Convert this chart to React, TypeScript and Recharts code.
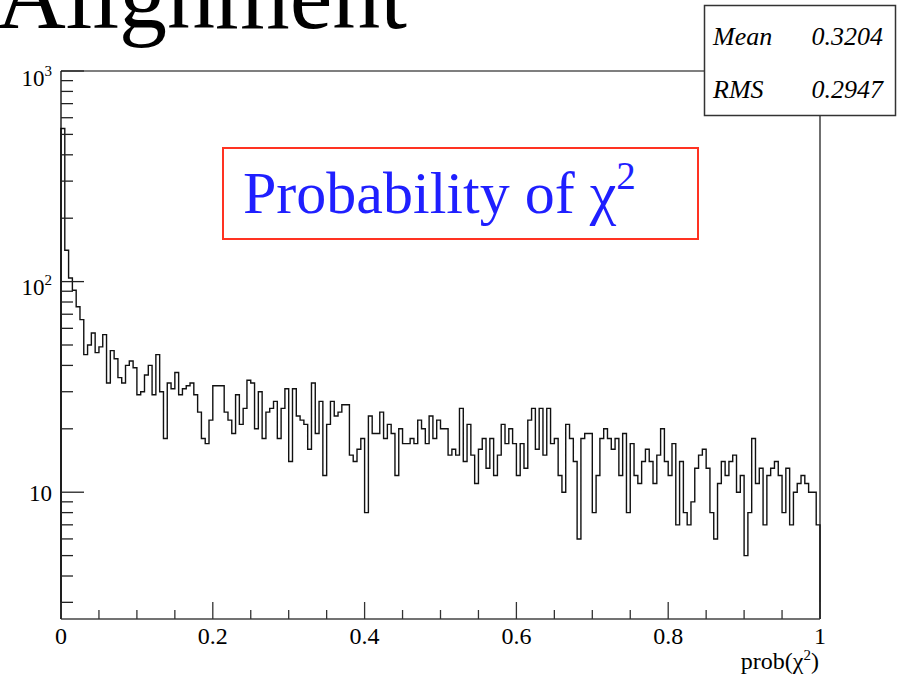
import React from "react";
import { LineChart, Line, XAxis, YAxis, ReferenceLine } from "recharts";

// entries per bin of prob(chi2), 200 bins over [0, 1]
const counts = [
    533, 141, 104, 91, 76, 66, 45, 50, 57, 46,
    49, 56, 33, 47, 43, 35, 33, 40, 42, 39,
    29, 30, 36, 40, 29, 45, 30, 18, 33, 31,
    37, 29, 31, 32, 33, 29, 24, 18, 17, 22,
    32, 32, 32, 24, 22, 19, 29, 21, 25, 34,
    33, 20, 30, 18, 24, 25, 27, 18, 25, 31,
    14, 31, 23, 22, 21, 16, 33, 19, 27, 12,
    21, 27, 23, 24, 26, 26, 15, 14, 16, 18,
    8, 23, 19, 19, 24, 18, 21, 19, 12, 20,
    17, 17, 18, 17, 22, 20, 17, 23, 18, 22,
    20, 20, 15, 16, 15, 25, 14, 21, 15, 11,
    16, 18, 13, 18, 12, 15, 21, 17, 20, 17,
    12, 17, 13, 22, 25, 16, 25, 15, 25, 17,
    18, 12, 10, 21, 18, 14, 6, 18, 19, 19,
    8, 12, 18, 20, 18, 16, 18, 12, 19, 8,
    17, 12, 11, 14, 16, 14, 11, 15, 20, 14,
    12, 17, 7, 14, 8, 7, 9, 13, 15, 16,
    13, 8, 6, 11, 14, 12, 14, 15, 10, 12,
    5, 8, 18, 11, 13, 7, 12, 13, 14, 12,
    8, 13, 7, 10, 11, 12, 11, 10, 10, 7,
];

const xTicks = [
    0, 0.05, 0.1, 0.15, 0.2, 0.25, 0.3, 0.35, 0.4, 0.45, 0.5,
    0.55, 0.6, 0.65, 0.7, 0.75, 0.8, 0.85, 0.9, 0.95, 1,
];
const xLabels: Record<string, string> = {
    "0": "0", "0.2": "0.2", "0.4": "0.4", "0.6": "0.6", "0.8": "0.8", "1": "1",
};

const yTicks = [
    3, 4, 5, 6, 7, 8, 9, 10, 20, 30, 40, 50, 60, 70, 80, 90,
    100, 200, 300, 400, 500, 600, 700, 800, 900, 1000,
];
const yLabels: Record<string, string> = { "10": "", "100": "2", "1000": "3" };

const stats = [
    { name: "Mean", value: "0.3204" },
    { name: "RMS", value: "0.2947" },
];

const Y_MIN = 2.5;
const Y_MAX = 1000;

const histData = [
    { x: 0, n: Y_MIN },
    ...counts.map((n, i) => ({ x: i / counts.length, n })),
    { x: 1, n: counts[counts.length - 1] },
    { x: 1, n: Y_MIN },
];

const serif = '"Liberation Serif", "DejaVu Serif", serif';

const XTick = (props: any) => {
    const { x, y, payload } = props;
    const label = xLabels[String(payload.value)];
    const major = label !== undefined;
    return (
        <g>
            <line x1={x} x2={x} y1={y} y2={y - (major ? 17 : 9)} stroke="#333" strokeWidth={1.3} />
            {major && (
                <text x={x} y={y + 25} textAnchor="middle" fontSize={24} fontFamily={serif} fill="#000">
                    {label}
                </text>
            )}
        </g>
    );
};

const YTick = (props: any) => {
    const { x, y, payload } = props;
    const exp = yLabels[String(payload.value)];
    const major = exp !== undefined;
    const dy = exp === "3" ? 15 : exp === "2" ? 13 : 9;
    return (
        <g>
            <line x1={x} x2={x + (major ? 23 : 12)} y1={y} y2={y} stroke="#222" strokeWidth={1.3} />
            {major && (
                <text x={x - 9} y={y + dy} textAnchor="end" fontSize={23} fontFamily={serif} fill="#000">
                    10
                    {exp && (
                        <tspan dy={-10} fontSize={15}>
                            {exp}
                        </tspan>
                    )}
                </text>
            )}
        </g>
    );
};

export default function App() {
    return (
        <div style={{ position: "absolute", left: 0, top: 0, width: 899, height: 683, background: "#fff" }}>
            <LineChart
                width={899}
                height={683}
                data={histData}
                margin={{ top: 71, right: 79, bottom: 24, left: 0 }}
            >
                <XAxis
                    dataKey="x"
                    type="number"
                    domain={[0, 1]}
                    ticks={xTicks}
                    interval={0}
                    height={40}
                    tickSize={0}
                    tickMargin={0}
                    tickLine={false}
                    tick={<XTick />}
                    axisLine={{ stroke: "#444", strokeWidth: 1.5 }}
                />
                <YAxis
                    scale="log"
                    domain={[Y_MIN, Y_MAX]}
                    allowDataOverflow
                    ticks={yTicks}
                    interval={0}
                    width={61}
                    tickSize={0}
                    tickMargin={0}
                    tickLine={false}
                    tick={<YTick />}
                    axisLine={{ stroke: "#000", strokeWidth: 1.3 }}
                />
                <ReferenceLine y={Y_MAX} stroke="#555" strokeWidth={1.5} />
                <ReferenceLine x={1} stroke="#222" strokeWidth={1.3} />
                <Line
                    type="stepAfter"
                    dataKey="n"
                    stroke="#111"
                    strokeWidth={1.4}
                    dot={false}
                    isAnimationActive={false}
                />
            </LineChart>

            <svg
                width={899}
                height={683}
                style={{ position: "absolute", left: 0, top: 0, pointerEvents: "none" }}
            >
                <text x={407} y={28} textAnchor="end" fontSize={96} fontFamily={serif} fill="#000">
                    Alignment
                </text>

                <rect x={704.5} y={5.5} width={191} height={110} fill="#fff" stroke="#333" strokeWidth={1.5} />
                {stats.map((s, i) => (
                    <g key={s.name} fontFamily={serif} fontStyle="italic" fontSize={26} fill="#000">
                        <text x={713} y={45 + i * 53}>{s.name}</text>
                        <text x={883} y={45 + i * 53} textAnchor="end">{s.value}</text>
                    </g>
                ))}

                <rect x={223} y={148} width={475} height={91} fill="#fff" stroke="#ff3322" strokeWidth={2} />
                <text x={243} y={213} fontSize={60} fontFamily={serif} fill="#1f1fff">
                    Probability of χ
                    <tspan dy={-24} fontSize={39}>2</tspan>
                </text>

                <text x={819} y={669} textAnchor="end" fontSize={24} fontFamily={serif} fill="#000">
                    prob(χ
                    <tspan dy={-9} fontSize={15}>2</tspan>
                    <tspan dy={9}>)</tspan>
                </text>
            </svg>
        </div>
    );
}
